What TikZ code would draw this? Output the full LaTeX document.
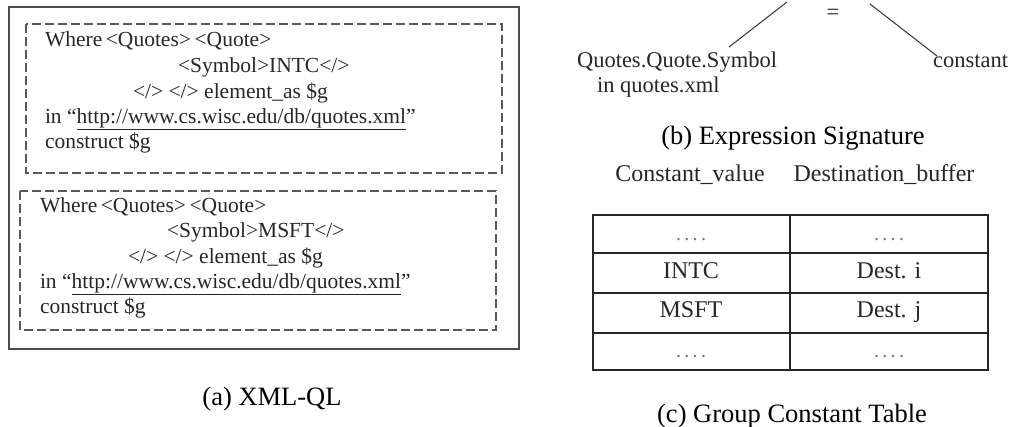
\documentclass[tikz,border=0pt]{standalone}
\usepackage{fontspec}
\setmainfont{Liberation Serif}

\begin{document}
\begin{tikzpicture}[y=1pt, x=1pt, yscale=-1.000000, xscale=1.000000, inner sep=0pt, outer sep=0pt,
  code/.style={anchor=base west, text=black!85, font=\fontsize{21.5}{24}\selectfont},
  sig/.style={anchor=base west, text=black!85, font=\fontsize{22.5}{26}\selectfont},
  cell/.style={anchor=base, text=black!85, font=\fontsize{24}{28}\selectfont},
  dots/.style={anchor=base, text=black!55, font=\fontsize{20}{24}\selectfont},
  caption/.style={anchor=base, font=\fontsize{26.5}{30}\selectfont},
  qbox/.style={draw=black!65, line width=1.3pt, dash pattern=on 9pt off 4pt},
  rule/.style={draw=black!85, line width=1.2pt}]
\useasboundingbox (0,0) rectangle (1011,426);
\path[draw=black!70, line width=1.2pt] (9,7) rectangle (519,349);
\path[qbox] (26,24) rectangle (502,173);
\path[qbox] (20,191) rectangle (496,330);
\node[code] (where1) at (45,46.5) {Where\,<Quotes>\,<Quote>};
\node[code] (sym1) at (178,72) {<Symbol>INTC</>};
\node[code] (elem1) at (133,98) {</> </> element\_as \$g};
\node[code] (url1) at (45,123) {in “\underline{http://www.cs.wisc.edu/db/quotes.xml}”};
\node[code] (cons1) at (45,148) {construct \$g};
\node[code] (where2) at (40,212) {Where\,<Quotes>\,<Quote>};
\node[code] (sym2) at (167,237) {<Symbol>MSFT</>};
\node[code] (elem2) at (128,263) {</> </> element\_as \$g};
\node[code] (url2) at (40,288) {in “\underline{http://www.cs.wisc.edu/db/quotes.xml}”};
\node[code] (cons2) at (40,313) {construct \$g};
\node[caption] (capa) at (272,405) {(a) XML-QL};
\node[sig, anchor=base] (eq) at (833,19) {=};
\node[sig] (path) at (577,67) {Quotes.Quote.Symbol};
\node[sig] (file) at (597,92) {in quotes.xml};
\node[sig, anchor=base east] (const) at (1008,67) {constant};
\coordinate (eqleft) at (787,2);
\coordinate (eqright) at (870,4);
\coordinate (pathtop) at (729,47);
\coordinate (consttop) at (937,56);
\path[draw=black!80, line width=1pt] (eqleft) -- (pathtop);
\path[draw=black!80, line width=1pt] (eqright) -- (consttop);
\node[caption] (capb) at (793,144) {(b) Expression Signature};
\node[cell] (hval) at (690,181) {Constant\_value};
\node[cell] (hbuf) at (884,181) {Destination\_buffer};
\path[rule] (593,215) rectangle (988,370);
\path[rule] (790,215) -- (790,370);
\foreach \y in {253,293,333}
  \path[rule] (593,\y) -- (988,\y);
\node[dots] (v0) at (691,240) {.\,.\,.\,.};
\node[dots] (b0) at (889,240) {.\,.\,.\,.};
\node[cell] (v1) at (691,278) {INTC};
\node[cell] (b1) at (889,278) {Dest. i};
\node[cell] (v2) at (691,317) {MSFT};
\node[cell] (b2) at (889,317) {Dest. j};
\node[dots] (v3) at (691,357) {.\,.\,.\,.};
\node[dots] (b3) at (889,357) {.\,.\,.\,.};
\node[caption] (capc) at (792,422) {(c) Group Constant Table};

\end{tikzpicture}
\end{document}
